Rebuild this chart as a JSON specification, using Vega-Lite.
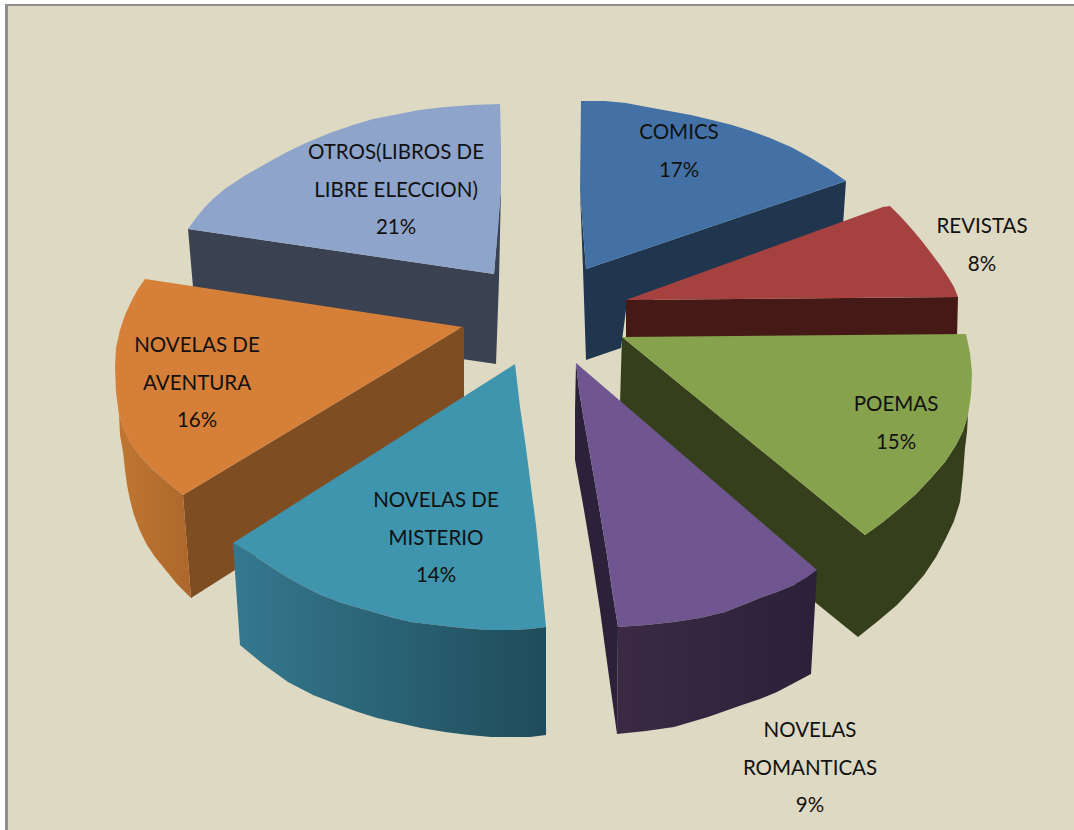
{"$schema":"https://vega.github.io/schema/vega-lite/v6.json","width":1074,"height":830,"padding":0,"autosize":{"type":"none"},"background":"#ffffff","view":{"stroke":null},"projection":{"type":"identity","scale":1,"translate":[0,0]},"datasets":{"caras":[
{"type":"Feature","properties":{"face":"fondo"},"geometry":{"type":"Polygon","coordinates":[[[5,4],[1074,4],[1074,830],[5,830],[5,4]]]}},
{"type":"Feature","properties":{"face":"marco"},"geometry":{"type":"Polygon","coordinates":[[[5,4],[1074,4],[1074,6],[8,6],[8,830],[5,830],[5,4]]]}},
{"type":"Feature","properties":{"face":"otros lado"},"geometry":{"type":"Polygon","coordinates":[[[188,229],[494,274],[501,187],[499,280],[496,364],[462,359],[462,330],[193,287],[188,229]]]}},
{"type":"Feature","properties":{"face":"otros"},"geometry":{"type":"Polygon","coordinates":[[[500,104],[472,105],[445,107],[419,110],[394,115],[373,119],[353,125],[330,133],[308,142],[287,152],[267,163],[246,175],[226,188],[214,198],[205,207],[196,218],[188,229],[494,274],[498,230],[501,187],[501,145],[500,104]]]}},
{"type":"Feature","properties":{"face":"aventura frente"},"geometry":{"type":"Polygon","coordinates":[[[462,327],[183,495],[191,598],[235,570],[300,530],[464,420],[464,327],[462,327]]]}},
{"type":"Feature","properties":{"face":"aventura"},"geometry":{"type":"Polygon","coordinates":[[[462,327],[145,279],[138,289],[132,300],[125,315],[120,330],[116,348],[115,367],[116,392],[119,415],[124,429],[130,442],[140,456],[151,468],[167,482],[183,495],[462,327]]]}},
{"type":"Feature","properties":{"face":"misterio"},"geometry":{"type":"Polygon","coordinates":[[[515,364],[233,543],[248,552],[264,562],[282,574],[301,585],[321,595],[342,603],[359,608],[377,613],[394,618],[411,622],[436,625],[462,628],[488,630],[514,630],[530,629],[546,627],[541,575],[536,525],[531,487],[526,448],[520,407],[515,364]]]}},
{"type":"Feature","properties":{"face":"comics lado"},"geometry":{"type":"Polygon","coordinates":[[[846,181],[843,225],[626,310],[621,348],[586,360],[583,269],[580,190],[586,269],[846,181]]]}},
{"type":"Feature","properties":{"face":"comics"},"geometry":{"type":"Polygon","coordinates":[[[581,101],[605,101],[626,103],[647,107],[669,111],[691,115],[712,120],[732,125],[751,131],[770,138],[791,147],[811,158],[829,169],[846,181],[586,269],[580,190],[581,101]]]}},
{"type":"Feature","properties":{"face":"revistas lado"},"geometry":{"type":"Polygon","coordinates":[[[626,300],[958,297],[957,337],[626,340],[626,300]]]}},
{"type":"Feature","properties":{"face":"revistas"},"geometry":{"type":"Polygon","coordinates":[[[626,300],[883,207],[890,206],[900,216],[910,227],[921,240],[931,253],[940,265],[948,277],[954,287],[958,297],[626,300]]]}},
{"type":"Feature","properties":{"face":"poemas lado"},"geometry":{"type":"Polygon","coordinates":[[[622,337],[865,535],[883,522],[900,508],[916,494],[931,478],[945,462],[956,445],[963,431],[968,415],[967,432],[965,448],[963,475],[960,502],[954,521],[946,538],[936,557],[924,575],[911,590],[897,605],[878,621],[858,637],[816,603],[700,500],[621,420],[620,403],[622,337]]]}},
{"type":"Feature","properties":{"face":"poemas"},"geometry":{"type":"Polygon","coordinates":[[[622,337],[966,334],[970,353],[972,373],[971,395],[968,415],[963,431],[956,445],[945,462],[931,478],[916,494],[900,508],[883,522],[865,535],[622,337]]]}},
{"type":"Feature","properties":{"face":"romanticas lado"},"geometry":{"type":"Polygon","coordinates":[[[576,363],[579,390],[583,415],[590,455],[597,495],[602,525],[607,555],[612,590],[618,627],[617,734],[612,698],[607,662],[600,610],[592,558],[584,510],[575,460],[575,410],[576,363]]]}},
{"type":"Feature","properties":{"face":"romanticas"},"geometry":{"type":"Polygon","coordinates":[[[576,363],[817,570],[806,578],[794,585],[777,592],[760,598],[743,605],[725,612],[700,618],[674,622],[646,625],[618,627],[612,590],[607,555],[602,525],[597,495],[590,455],[583,415],[579,390],[576,363]]]}}
],"curvas":[
{"type":"Feature","properties":{"face":"aventura lado"},"geometry":{"type":"Polygon","coordinates":[[[119,415],[120,435],[123,452],[125,470],[127,485],[130,500],[134,515],[140,531],[147,545],[155,557],[164,568],[177,584],[191,598],[183,495],[167,482],[151,468],[140,456],[130,442],[124,429],[119,415]]]}},
{"type":"Feature","properties":{"face":"misterio lado"},"geometry":{"type":"Polygon","coordinates":[[[233,543],[240,645],[263,664],[288,682],[313,695],[339,705],[358,712],[377,718],[399,723],[421,728],[445,732],[469,735],[491,737],[514,737],[530,737],[546,735],[546,627],[530,629],[514,630],[488,630],[462,628],[436,625],[411,622],[394,618],[377,613],[359,608],[342,603],[321,595],[301,585],[282,574],[264,562],[248,552],[233,543]]]}},
{"type":"Feature","properties":{"face":"romanticas frente"},"geometry":{"type":"Polygon","coordinates":[[[618,627],[646,625],[674,622],[700,618],[725,612],[743,605],[760,598],[777,592],[794,585],[806,578],[817,570],[811,674],[794,683],[777,692],[760,699],[742,705],[725,711],[708,717],[691,722],[674,727],[646,731],[617,734],[618,627]]]}}
]},"layer":[{"data":{"name":"caras"},"mark":{"type":"geoshape","stroke":null},"encoding":{"color":{"field":"properties.face","type":"nominal","legend":null,"scale":{"domain":["fondo","marco","otros lado","otros","aventura frente","aventura","misterio","comics lado","comics","revistas lado","revistas","poemas lado","poemas","romanticas lado","romanticas"],"range":["#DDD9C3","#8E8E8E","#3A4252","#8EA4CB","#7F4D22","#D67F39","#3F94AE","#20364F","#4371A6","#451A16","#A5423F","#363F1C","#86A24C","#2B2138","#6F5690"]}}}},
{"data":{"name":"curvas"},"transform":[{"filter":"datum.properties.face=='aventura lado'"}],"mark":{"type":"geoshape","stroke":null,"fill":{"gradient":"linear","x1":0,"y1":0,"x2":1,"y2":0,"stops":[{"offset":0,"color":"#C07632"},{"offset":1,"color":"#AD672B"}]}}},
{"data":{"name":"curvas"},"transform":[{"filter":"datum.properties.face=='misterio lado'"}],"mark":{"type":"geoshape","stroke":null,"fill":{"gradient":"linear","x1":0,"y1":0,"x2":1,"y2":0,"stops":[{"offset":0,"color":"#35788F"},{"offset":1,"color":"#1F4C5A"}]}}},
{"data":{"name":"curvas"},"transform":[{"filter":"datum.properties.face=='romanticas frente'"}],"mark":{"type":"geoshape","stroke":null,"fill":{"gradient":"linear","x1":0,"y1":0,"x2":1,"y2":0,"stops":[{"offset":0,"color":"#3C2A45"},{"offset":1,"color":"#2A2138"}]}}},
{"data":{"values":[
{"categoria":"COMICS","pct":17,"etiqueta":"COMICS\n17%","cx":679,"cy":133},
{"categoria":"REVISTAS","pct":8,"etiqueta":"REVISTAS\n8%","cx":982,"cy":227},
{"categoria":"POEMAS","pct":15,"etiqueta":"POEMAS\n15%","cx":896,"cy":405},
{"categoria":"NOVELAS ROMANTICAS","pct":9,"etiqueta":"NOVELAS\nROMANTICAS\n9%","cx":810,"cy":731},
{"categoria":"NOVELAS DE MISTERIO","pct":14,"etiqueta":"NOVELAS DE\nMISTERIO\n14%","cx":436,"cy":501},
{"categoria":"NOVELAS DE AVENTURA","pct":16,"etiqueta":"NOVELAS DE\nAVENTURA\n16%","cx":197,"cy":346},
{"categoria":"OTROS(LIBROS DE LIBRE ELECCION)","pct":21,"etiqueta":"OTROS(LIBROS DE\nLIBRE ELECCION)\n21%","cx":396,"cy":153}
]},"mark":{"type":"text","font":"Lato","fontSize":20.5,"lineBreak":"\n","lineHeight":37.5,"align":"center","baseline":"middle","color":"#111111"},"encoding":{"longitude":{"field":"cx","type":"quantitative"},"latitude":{"field":"cy","type":"quantitative"},"text":{"field":"etiqueta","type":"nominal"}}}
]}
